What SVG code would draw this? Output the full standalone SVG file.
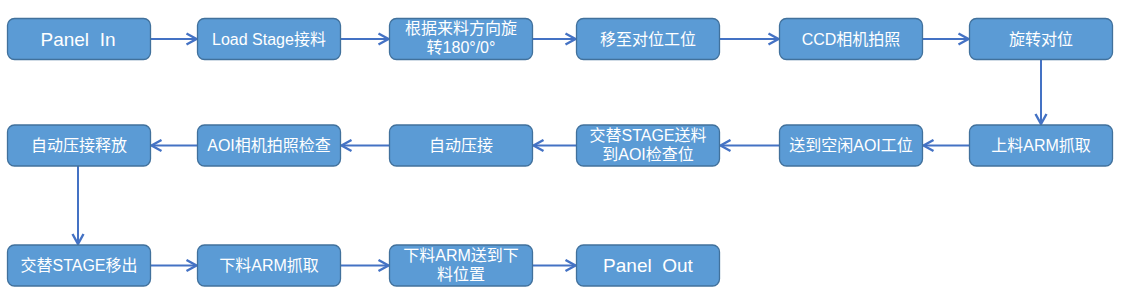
<svg xmlns="http://www.w3.org/2000/svg" width="1121" height="297" viewBox="0 0 1121 297">
<style>
.box{fill:#5B9BD5;stroke:#41719C;stroke-width:1.3}
.t{fill:#fff;font-family:"Liberation Sans","Noto Sans CJK SC",sans-serif;font-size:16px;text-anchor:middle;dominant-baseline:central;white-space:pre}
.big{font-size:19px}
.c{fill:none;stroke:#4472C4;stroke-width:2;marker-end:url(#ah)}
</style>
<defs>
<marker id="ah" markerUnits="userSpaceOnUse" markerWidth="14" markerHeight="14" viewBox="0 0 14 14" refX="12" refY="7" orient="auto">
<path d="M2,1.5 L12,7 L2,12.5" fill="none" stroke="#4472C4" stroke-width="2.4"/>
</marker>
</defs>
<g id="connectors">
<path class="c" d="M150.5,39 H196.5"/>
<path class="c" d="M340.5,39 H388.5"/>
<path class="c" d="M532.5,39 H575.5"/>
<path class="c" d="M719.5,39 H778.5"/>
<path class="c" d="M922.5,39 H968.5"/>
<path class="c" d="M1041,59.5 V124"/>
<path class="c" d="M969.5,145.5 H923.5"/>
<path class="c" d="M779.5,145.5 H720.5"/>
<path class="c" d="M576.5,145.5 H533.5"/>
<path class="c" d="M389.5,145.5 H341.5"/>
<path class="c" d="M197.5,145.5 H151.5"/>
<path class="c" d="M78,166 V244"/>
<path class="c" d="M150.5,265.5 H196.5"/>
<path class="c" d="M340.5,265.5 H388.5"/>
<path class="c" d="M532.5,265.5 H575.5"/>
</g>
<g id="n1"><rect class="box" x="7.5" y="18.5" width="143" height="41" rx="7"/><text class="t big" x="78" y="39">Panel  In</text></g>
<g id="n2"><rect class="box" x="197.5" y="18.5" width="143" height="41" rx="7"/><text class="t" x="269" y="39">Load Stage接料</text></g>
<g id="n3"><rect class="box" x="389.5" y="18.5" width="143" height="41" rx="7"/><text class="t" x="461" y="28.5">根据来料方向旋</text><text class="t" x="461" y="47.5">转180°/0°</text></g>
<g id="n4"><rect class="box" x="576.5" y="18.5" width="143" height="41" rx="7"/><text class="t" x="648" y="39">移至对位工位</text></g>
<g id="n5"><rect class="box" x="779.5" y="18.5" width="143" height="41" rx="7"/><text class="t" x="851" y="39">CCD相机拍照</text></g>
<g id="n6"><rect class="box" x="969.5" y="18.5" width="143" height="41" rx="7"/><text class="t" x="1041" y="39">旋转对位</text></g>
<g id="n7"><rect class="box" x="969.5" y="125" width="143" height="41" rx="7"/><text class="t" x="1041" y="145.5">上料ARM抓取</text></g>
<g id="n8"><rect class="box" x="779.5" y="125" width="143" height="41" rx="7"/><text class="t" x="851" y="145.5">送到空闲AOI工位</text></g>
<g id="n9"><rect class="box" x="576.5" y="125" width="143" height="41" rx="7"/><text class="t" x="648" y="135.5">交替STAGE送料</text><text class="t" x="648" y="154.5">到AOI检查位</text></g>
<g id="n10"><rect class="box" x="389.5" y="125" width="143" height="41" rx="7"/><text class="t" x="461" y="145.5">自动压接</text></g>
<g id="n11"><rect class="box" x="197.5" y="125" width="143" height="41" rx="7"/><text class="t" x="269" y="145.5">AOI相机拍照检查</text></g>
<g id="n12"><rect class="box" x="7.5" y="125" width="143" height="41" rx="7"/><text class="t" x="79" y="145.5">自动压接释放</text></g>
<g id="n13"><rect class="box" x="7.5" y="245" width="143" height="41" rx="7"/><text class="t" x="79" y="265.5">交替STAGE移出</text></g>
<g id="n14"><rect class="box" x="197.5" y="245" width="143" height="41" rx="7"/><text class="t" x="269" y="265.5">下料ARM抓取</text></g>
<g id="n15"><rect class="box" x="389.5" y="245" width="143" height="41" rx="7"/><text class="t" x="461" y="255.5">下料ARM送到下</text><text class="t" x="461" y="274.5">料位置</text></g>
<g id="n16"><rect class="box" x="576.5" y="245" width="143" height="41" rx="7"/><text class="t big" x="648" y="265.5">Panel  Out</text></g>
</svg>
